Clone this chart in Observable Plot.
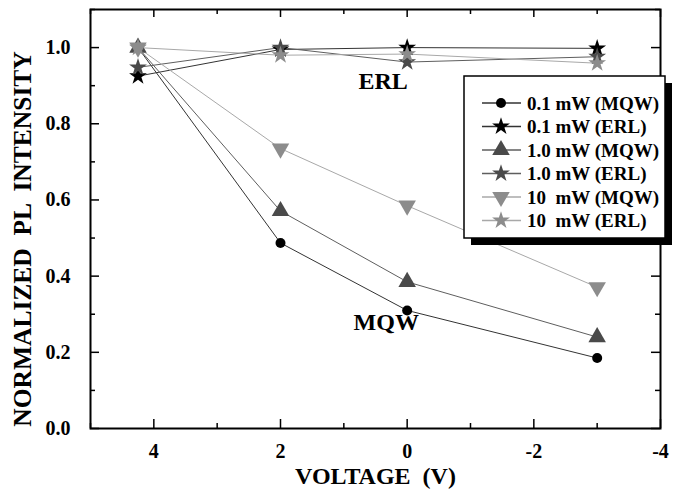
<!DOCTYPE html>
<html><head><meta charset="utf-8">
<script src="https://cdn.jsdelivr.net/npm/d3@7"></script>
<script src="https://cdn.jsdelivr.net/npm/@observablehq/plot@0.6"></script>
<style>body{margin:0;background:#fff;} #chart svg{display:block;}</style>
</head><body><div id="chart"></div>
<script>
// ---- data ----
const voltage = [4.25, 2, 0, -3];
const mqw01 = [1.0, 0.487, 0.310, 0.185];
const erl01 = [0.925, 0.995, 1.0, 0.998];
const mqw10 = [1.0, 0.571, 0.385, 0.240];
const erl10 = [0.948, 1.0, 0.962, 0.976];
const mqw100 = [1.0, 0.735, 0.585, 0.371];
const erl100 = [1.0, 0.980, 0.983, 0.959];
const seriesNames = ["0.1 mW (MQW)", "0.1 mW (ERL)", "1.0 mW (MQW)", "1.0 mW (ERL)", "10  mW (MQW)", "10  mW (ERL)"];
const seriesValues = [mqw01, erl01, mqw10, erl10, mqw100, erl100];
const xMajorTicks = [4, 2, 0, -2, -4];
const xMinorTicks = [5, 3, 1, -1, -3];
const yMajorTicks = [0, 0.2, 0.4, 0.6, 0.8, 1.0];
const yMinorTicks = [0.1, 0.3, 0.5, 0.7, 0.9, 1.1];
const annotations = [{label: "ERL", v: 0.38, i: 0.912}, {label: "MQW", v: 0.33, i: 0.279}];

// ---- styles ----
const triangleDown = {
  draw(ctx, size) {
    const y = -Math.sqrt(size / (Math.sqrt(3) * 3));
    ctx.moveTo(0, -y * 2);
    ctx.lineTo(-Math.sqrt(3) * y, y);
    ctx.lineTo(Math.sqrt(3) * y, y);
    ctx.closePath();
  }
};
const markerColors = ["#000000", "#000000", "#4a4a4a", "#4a4a4a", "#8c8c8c", "#8c8c8c"];
const lineColors = ["#333333", "#333333", "#5e5e5e", "#5e5e5e", "#a8a8a8", "#a8a8a8"];
const symbols = ["circle", "star", "triangle", "star", triangleDown, "star"];
const radii = [5, 5.6, 6.5, 5.6, 6.5, 5.6];

const W = 678, H = 495;
const mL = 90, mR = 18, mT = 9, mB = 67;
const fw = W - mL - mR, fh = H - mT - mB;
const FONT = "'Liberation Serif', 'Times New Roman', serif";

const rows = [];
seriesValues.forEach((vals, s) => vals.forEach((v, k) => rows.push({s, v: voltage[k], i: v})));

const marks = [];
seriesValues.forEach((vals, s) => {
  const d = rows.filter(r => r.s === s);
  marks.push(Plot.line(d, {x: "v", y: "i", stroke: lineColors[s], strokeWidth: 1}));
});
seriesValues.forEach((vals, s) => {
  const d = rows.filter(r => r.s === s);
  marks.push(Plot.dot(d, {x: "v", y: "i", symbol: symbols[s], fill: markerColors[s], stroke: "none", r: radii[s]}));
});

const plot = Plot.plot({
  width: W, height: H,
  marginLeft: mL, marginRight: mR, marginTop: mT, marginBottom: mB,
  style: {fontFamily: FONT, background: "#fff", color: "#000", overflow: "visible"},
  x: {domain: [5, -4], axis: null},
  y: {domain: [0, 1.1], axis: null},
  marks: [
    ...marks,
    Plot.ruleX(xMajorTicks, {insetTop: fh - 9, stroke: "#000", strokeWidth: 1.5}),
    Plot.ruleX(xMinorTicks, {insetTop: fh - 5, stroke: "#000", strokeWidth: 1.5}),
    Plot.ruleX(xMajorTicks, {insetBottom: fh - 8, stroke: "#000", strokeWidth: 1.5}),
    Plot.ruleX(xMinorTicks, {insetBottom: fh - 5, stroke: "#000", strokeWidth: 1.5}),
    Plot.ruleY(yMajorTicks, {insetRight: fw - 9, stroke: "#000", strokeWidth: 1.5}),
    Plot.ruleY(yMinorTicks, {insetRight: fw - 5, stroke: "#000", strokeWidth: 1.5}),
    Plot.ruleY(yMajorTicks, {insetLeft: fw - 9, stroke: "#000", strokeWidth: 1.5}),
    Plot.ruleY(yMinorTicks, {insetLeft: fw - 5, stroke: "#000", strokeWidth: 1.5}),
    Plot.frame({stroke: "#000", strokeWidth: 2}),
    Plot.axisX(xMajorTicks, {tickSize: 0, tickPadding: 15, fontSize: 20, fontWeight: "bold", tickFormat: d => String(d), label: null}),
    Plot.axisY(yMajorTicks, {tickSize: 0, tickPadding: 20, fontSize: 20, fontWeight: "bold", tickFormat: d => d.toFixed(1), label: null}),
    Plot.text(["VOLTAGE  (V)"], {frameAnchor: "bottom", dy: 48, fontSize: 24, fontWeight: "bold", lineAnchor: "middle", textAnchor: "middle"}),
    Plot.text(["NORMALIZED  PL  INTENSITY"], {frameAnchor: "left", dx: -68, dy: 20, rotate: -90, fontSize: 25.5, fontWeight: "bold", lineAnchor: "middle", textAnchor: "middle"}),
    Plot.text(annotations, {x: "v", y: "i", text: "label", fontSize: 24, fontWeight: "bold", lineAnchor: "middle", textAnchor: "middle"})
  ]
});
document.getElementById("chart").appendChild(plot);

// ---- legend (drawn into the same SVG) ----
const svg = d3.select(plot);
const lg = svg.append("g").attr("font-family", FONT).attr("text-anchor", "start");
const bx = 464, by = 76, bw = 201, bh = 162, sh = 7;
lg.append("rect").attr("x", bx + sh).attr("y", by + sh).attr("width", bw).attr("height", bh).attr("fill", "#000");
lg.append("rect").attr("x", bx).attr("y", by).attr("width", bw).attr("height", bh).attr("fill", "#fff").attr("stroke", "#000").attr("stroke-width", 1.5);
const d3sym = s => {
  const sy = symbols[s];
  if (typeof sy === "object") return sy;
  return {circle: d3.symbolCircle, star: d3.symbolStar, triangle: d3.symbolTriangle}[sy];
};
seriesNames.forEach((name, s) => {
  const yy = by + 27 + s * 23.5;
  lg.append("line").attr("x1", bx + 18).attr("x2", bx + 57).attr("y1", yy).attr("y2", yy)
    .attr("stroke", lineColors[s]).attr("stroke-width", 1.5);
  const r = radii[s];
  lg.append("path").attr("d", d3.symbol(d3sym(s), Math.PI * r * r)())
    .attr("transform", `translate(${bx + 37},${yy})`).attr("fill", markerColors[s]);
  lg.append("text").attr("x", bx + 63).attr("y", yy).attr("dy", "0.35em").attr("text-anchor", "start")
    .attr("font-size", 19).attr("font-weight", "bold")
    .style("white-space", "pre").text(name);
});
</script></body></html>
